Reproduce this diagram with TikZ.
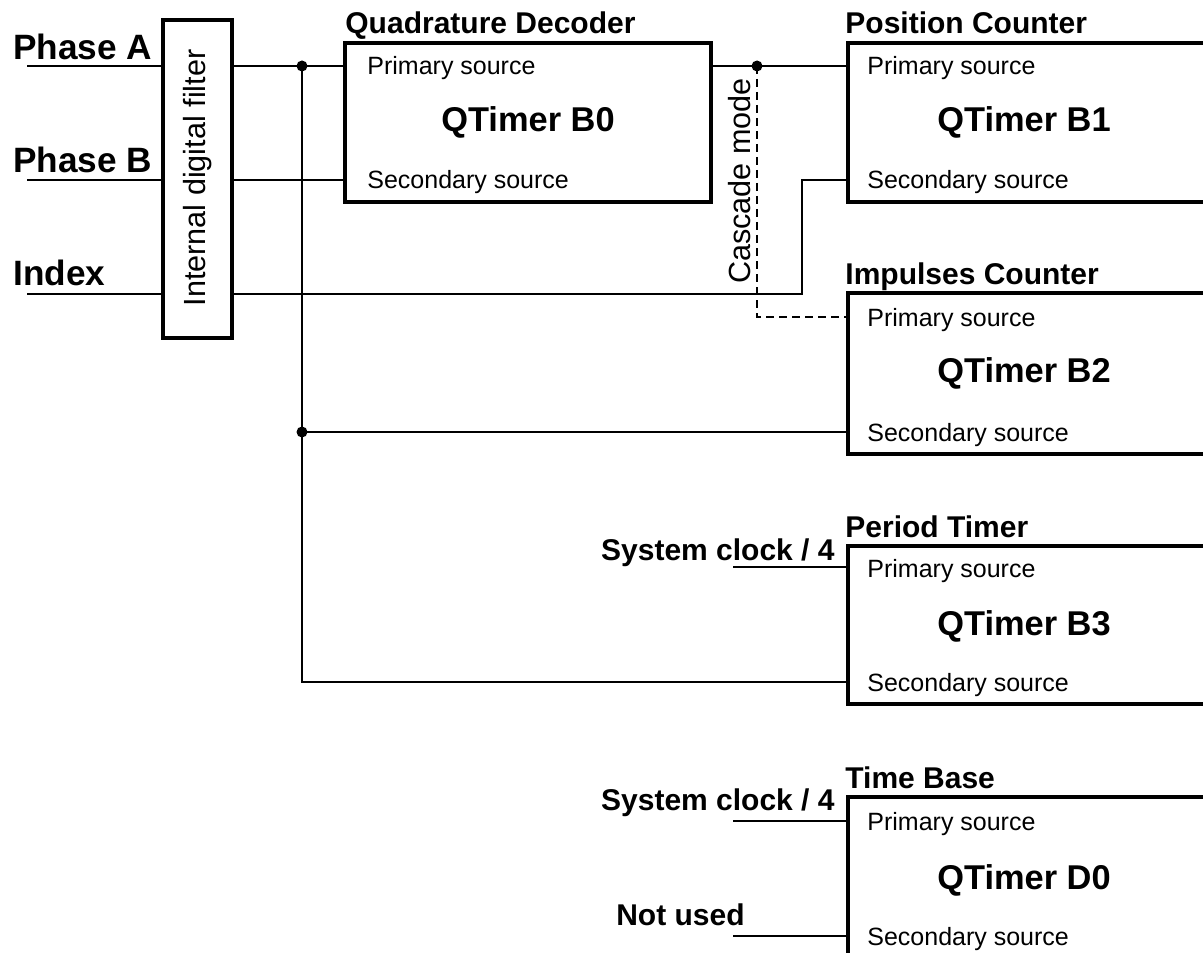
\documentclass[tikz,border=0pt]{standalone}
\usepackage{fontspec}
\setmainfont{Liberation Sans}
\begin{document}
\begin{tikzpicture}[x=0.5pt,y=-0.5pt,
  box/.style={draw, line width=1.75pt, rectangle, inner sep=0pt, outer sep=0pt, anchor=north west},
  wire/.style={line width=1pt},
  cascade/.style={line width=1pt, dash pattern=on 4pt off 2.5pt},
  jdot/.style={circle, fill, inner sep=0pt, minimum size=5.5pt},
  grouplbl/.style={font=\bfseries\fontsize{15}{18}\selectfont, anchor=base west, inner sep=0pt},
  inlbl/.style={font=\bfseries\fontsize{17.6}{20}\selectfont, anchor=base west, inner sep=0pt},
  clklbl/.style={font=\bfseries\fontsize{15}{18}\selectfont, inner sep=0pt},
  srclbl/.style={font=\fontsize{12.5}{15}\selectfont, anchor=base west, inner sep=0pt},
  title/.style={font=\bfseries\fontsize{17.2}{20}\selectfont, anchor=base, inner sep=0pt},
  vert/.style={font=\fontsize{15.3}{18}\selectfont, rotate=90, inner sep=0pt}]
\clip (0,0) rectangle (1203,952);

% boxes
\node[box, minimum width=34.5pt, minimum height=159pt] (filter) at (163,20) {};
\node[vert] at (198,178) {Internal digital filter};
\node[box, minimum width=183pt, minimum height=79.5pt] (B0) at (345,43) {};
\node[box, minimum width=186pt, minimum height=79.5pt] (B1) at (848,43) {};
\node[box, minimum width=186pt, minimum height=80.5pt] (B2) at (848,293) {};
\node[box, minimum width=186pt, minimum height=79pt] (B3) at (848,546) {};
\node[box, minimum width=186pt, minimum height=90pt] (D0) at (848,797) {};

% group labels
\node[grouplbl] (lB0) at (345,34) {Quadrature Decoder};
\node[grouplbl] (lB1) at (845,34) {Position Counter};
\node[grouplbl] (lB2) at (845,284) {Impulses Counter};
\node[grouplbl] (lB3) at (845,537) {Period Timer};
\node[grouplbl] (lD0) at (845,788) {Time Base};

% titles
\node[title] (tB0) at (528,132) {QTimer B0};
\node[title] (tB1) at (1024,132) {QTimer B1};
\node[title] (tB2) at (1024,382) {QTimer B2};
\node[title] (tB3) at (1024,635) {QTimer B3};
\node[title] (tD0) at (1024,889) {QTimer D0};

% source labels
\node[srclbl] at (367,75) {Primary source};
\node[srclbl] at (367,189) {Secondary source};
\node[srclbl] at (867,75) {Primary source};
\node[srclbl] at (867,189) {Secondary source};
\node[srclbl] at (867,326) {Primary source};
\node[srclbl] at (867,441) {Secondary source};
\node[srclbl] at (867,577) {Primary source};
\node[srclbl] at (867,691) {Secondary source};
\node[srclbl] at (867,830) {Primary source};
\node[srclbl] at (867,945) {Secondary source};

% input labels
\node[inlbl] (lA) at (13,60) {Phase A};
\node[inlbl] (lB) at (13,173) {Phase B};
\node[inlbl] (lI) at (13,285) {Index};
\node[clklbl, anchor=base east] (clk3l) at (835,560) {System clock / 4};
\node[clklbl, anchor=base east] (clk4l) at (835,810) {System clock / 4};
\node[clklbl, anchor=base east] (nul) at (745,925) {Not used};
\node[vert] (casc) at (740,181) {Cascade mode};

% port coordinates
\coordinate (inA) at (27,66);   \coordinate (fAin) at (163,66);  \coordinate (fAout) at (232,66);
\coordinate (inB) at (27,180);  \coordinate (fBin) at (163,180); \coordinate (fBout) at (232,180);
\coordinate (inI) at (27,294);  \coordinate (fIin) at (163,294); \coordinate (fIout) at (232,294);
\coordinate (B0p) at (345,66);  \coordinate (B0s) at (345,180);  \coordinate (B0o) at (711,66);
\coordinate (B1p) at (848,66);  \coordinate (B1s) at (848,180);
\coordinate (B2p) at (848,317); \coordinate (B2s) at (848,432);
\coordinate (B3p) at (848,567); \coordinate (B3s) at (848,682);
\coordinate (D0p) at (848,821); \coordinate (D0s) at (848,936);
\coordinate (j1) at (302,66);   \coordinate (j2) at (302,432);   \coordinate (j3) at (302,682);
\coordinate (j4) at (757,66);   \coordinate (ibend) at (802,294);
\coordinate (clk3) at (733,567); \coordinate (clk4) at (733,821); \coordinate (nu) at (733,936);

% wires
\draw[wire] (inA) -- (fAin);
\draw[wire] (inB) -- (fBin);
\draw[wire] (inI) -- (fIin);
\draw[wire] (fAout) -- (B0p);
\draw[wire] (fBout) -- (B0s);
\draw[wire] (fIout) -- (ibend) |- (B1s);
\draw[wire] (j1) -- (j3) -- (B3s);
\draw[wire] (j2) -- (B2s);
\draw[wire] (B0o) -- (B1p);
\draw[cascade] (j4) |- (B2p);
\draw[wire] (clk3) -- (B3p);
\draw[wire] (clk4) -- (D0p);
\draw[wire] (nu) -- (D0s);

% junction dots
\node[jdot] at (j1) {};
\node[jdot] at (j2) {};
\node[jdot] at (j4) {};
\end{tikzpicture}
\end{document}
